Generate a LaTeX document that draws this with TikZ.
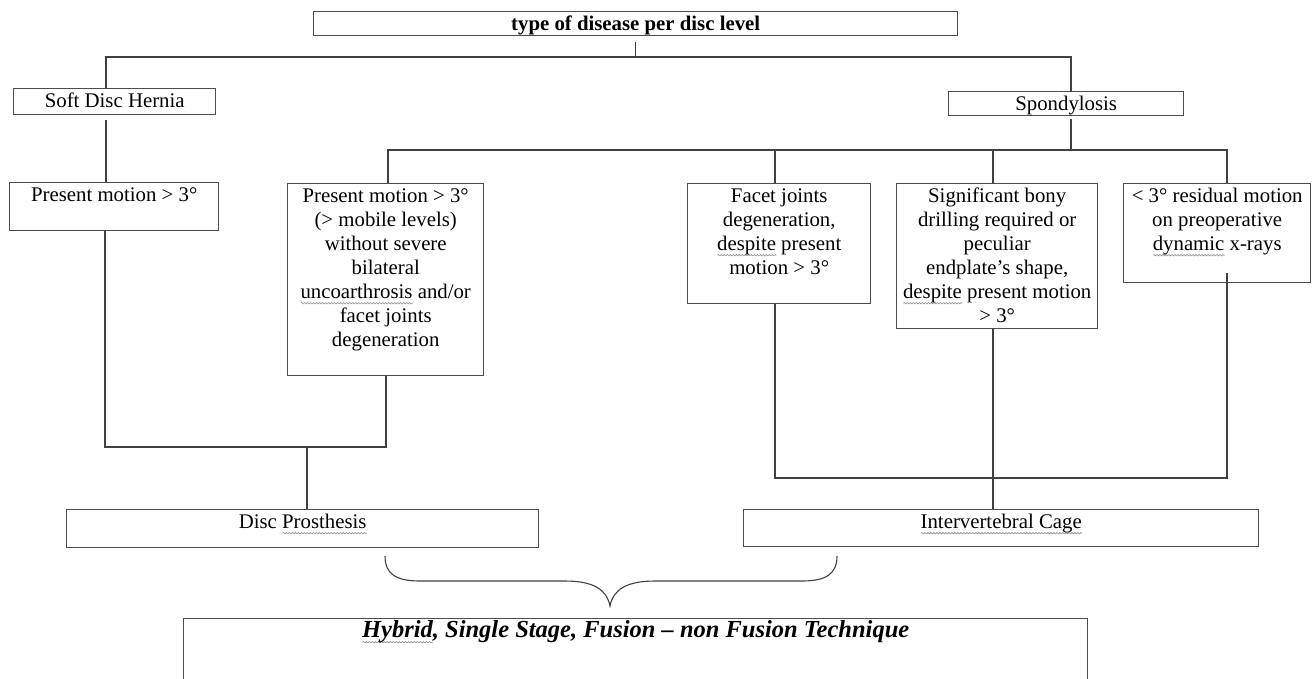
\documentclass[tikz,border=0pt]{standalone}
\usepackage{fontspec}
\setmainfont{Liberation Serif}
\usetikzlibrary{calc,positioning,decorations.pathmorphing}
\newlength{\sqwd}
\newcommand{\squig}[1]{\leavevmode\settowidth{\sqwd}{#1}\rlap{\tikz[baseline=0pt]\draw[decorate, decoration={snake, amplitude=0.7pt, segment length=3pt}, draw=black!45, line width=0.6pt] (0pt,-5pt) -- (\sqwd,-5pt);}#1}
\newcommand{\boxtext}[3]{\parbox[c][#2pt][t]{#1pt}{\centering\rule{0pt}{18.5pt}#3}}

\begin{document}
\begin{tikzpicture}[x=1pt, y=-1pt,
    box/.style={draw=black!70, line width=1.4pt, inner sep=0pt, anchor=north west,
                font=\fontsize{20.8}{24}\selectfont},
    link/.style={draw=black!75, line width=1.1pt}]
    \useasboundingbox (0,0) rectangle (1314,678);
    \clip (0,0) rectangle (1314,678);
    %first level
        \node[box] (title) at (313,11) {\boxtext{644}{24}{\bfseries type of disease per disc level}};
        \node[box] (soft) at (13,88) {\boxtext{202}{26}{Soft Disc Hernia}};
        \node[box] (spond) at (948,91) {\boxtext{235}{24}{Spondylosis}};
    %second level
        \node[box] (pm1) at (9,182) {\boxtext{209}{48}{Present motion > 3°}};
        \node[box] (pm2) at (287,183) {\boxtext{196}{192}{Present motion > 3°\\(> mobile levels)\\without severe\\bilateral\\\squig{uncoarthrosis} and/or\\facet joints\\degeneration}};
        \node[box] (facet) at (687,183) {\boxtext{183}{120}{Facet joints\\degeneration,\\\squig{despite} present\\motion > 3°}};
        \node[box] (bony) at (896,183) {\boxtext{201}{145}{Significant bony\\drilling required or\\peculiar\\endplate’s shape,\\\squig{despite} present motion\\> 3°}};
        \node[box] (resid) at (1123,183) {\boxtext{187}{99}{< 3° residual motion\\on preoperative\\\squig{dynamic} x-rays}};
    %treatments
        \node[box] (disc) at (66,509) {\boxtext{472}{38}{Disc \squig{Prosthesis}}};
        \node[box] (cage) at (743,509) {\boxtext{515}{37}{\squig{Intervertebral Cage}}};
        \node[box, font=\fontsize{24.5}{28}\selectfont] (hybrid) at (183,618) {\boxtext{904}{100}{\bfseries\itshape \squig{Hybrid}, Single Stage, Fusion – non Fusion Technique}};

    %junction points
        \coordinate (hl) at (106,57);
        \coordinate (hr) at (1071,57);
        \coordinate (sl) at (388,150);
        \coordinate (sr) at (1227,150);
        \coordinate (fc) at (775,150);
        \coordinate (bc) at (993,150);
        \coordinate (bl) at (105,447);
        \coordinate (bm) at (307,447);
        \coordinate (br) at (386,447);
        \coordinate (rl) at (775,478);
        \coordinate (rr) at (1227,478);

    %tree from the top box
        \draw[link, shorten <=6pt] (title.south) -- (title.south |- hl);
        \draw[link] (soft.north -| hl) -- (hl) -- (hr) -- (spond.north -| hr);
        \draw[link, shorten <=3pt] (spond.south -| hr) -- (hr |- sl);
        \draw[link] (pm2.north -| sl) -- (sl) -- (sr) -- (resid.north -| sr);
        \draw[link] (fc) -- (facet.north -| fc);
        \draw[link] (bc) -- (bony.north -| bc);
        \draw[link, shorten <=5pt] (soft.south -| hl) -- (pm1.north -| hl);

    %left side to disc prosthesis
        \draw[link] (pm1.south -| bl) -- (bl) -- (br) -- (pm2.south -| br);
        \draw[link] (bm) -- (disc.north -| bm);

    %right side to cage
        \draw[link] (facet.south -| rl) -- (rl) -- (rr) -- ([yshift=10pt]resid.south -| rr);
        \draw[link] (bony.south -| bc) -- (cage.north -| bc);

    %brace over both treatments
        \draw[link] (385,556) .. controls (385,574) and (396,581) .. (420,581)
            -- (565,581) .. controls (594,581) and (607,590) .. (610,606)
            .. controls (613,590) and (626,581) .. (655,581)
            -- (802,581) .. controls (826,581) and (837,574) .. (837,556);
\end{tikzpicture}
\end{document}
